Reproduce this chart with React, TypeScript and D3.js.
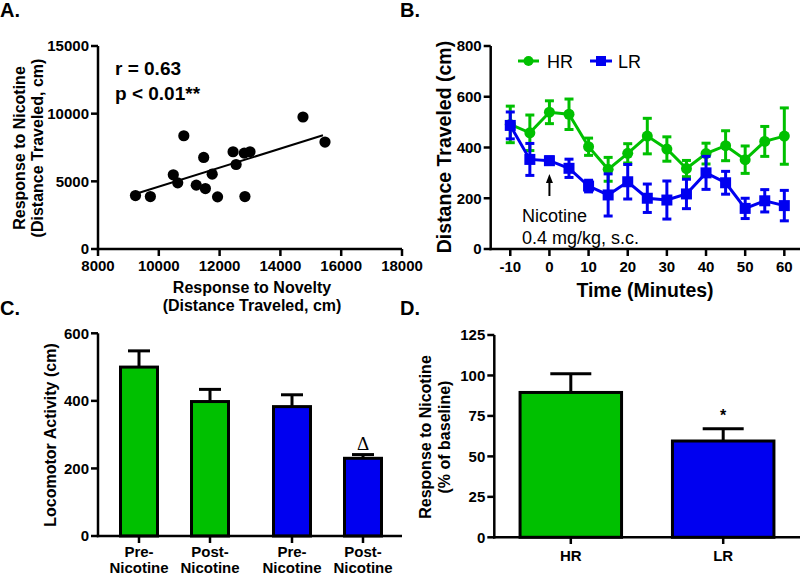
import React from "react";
import * as d3 from "d3";

// Panel A: scatter
const noveltyX = [9233, 9723, 10823, 10477, 10623, 11477, 11233, 11533, 11757, 11933, 12443, 12543, 12810, 13000, 12833, 14743, 15467];
const nicotineY = [3948, 3874, 8370, 5481, 4889, 6763, 4718, 4467, 5531, 3852, 7185, 6244, 7086, 7185, 3874, 9755, 7903];
const fitX = [9250, 15400];
const fitY = [4080, 8400];
const aXTicks = [8000, 10000, 12000, 14000, 16000, 18000];
const aYTicks = [0, 5000, 10000, 15000];

// Panel B: time course
const times = [-10, -5, 0, 5, 10, 15, 20, 25, 30, 35, 40, 45, 50, 55, 60];
const hrMean = [491, 458, 539, 531, 403, 314, 377, 445, 394, 317, 376, 407, 352, 424, 445];
const hrSem = [72, 70, 45, 60, 34, 47, 38, 70, 48, 32, 41, 59, 54, 59, 111];
const lrMean = [487, 353, 348, 318, 248, 213, 265, 200, 193, 217, 300, 261, 160, 190, 171];
const lrSem = [53, 63, 15, 36, 23, 83, 68, 56, 75, 58, 65, 45, 40, 44, 60];
const bXTicks = [-10, 0, 10, 20, 30, 40, 50, 60];
const bYTicks = [0, 200, 400, 600, 800];

// Panel C: grouped bars
const cGroups = ["HR", "LR"];
const cConds = ["Pre", "Post"];
const cLabels = [["Pre-", "Nicotine"], ["Post-", "Nicotine"]];
const cMeans = [[500, 398], [383, 230]];
const cSems = [[48, 36], [35, 11]];
const cYTicks = [0, 200, 400, 600];

// Panel D: bars
const dCats = ["HR", "LR"];
const dMeans = [89.5, 59.5];
const dSems = [11.5, 7.5];
const dYTicks = [0, 25, 50, 75, 100, 125];

const GREEN = "#00c000";
const BLUE = "#0000f0";
const FONT = "'Liberation Sans', Arial, Helvetica, sans-serif";

function YAxis({ x, scale, ticks, fmt = (d: number) => String(d) }: any) {
  const [r0, r1] = scale.range();
  return (
    <g>
      <line x1={x} x2={x} y1={r0 + 1.2} y2={r1} stroke="#000" strokeWidth={2.5} />
      {ticks.map((t: number) => (
        <g key={t}>
          <line x1={x - 7} x2={x} y1={scale(t)} y2={scale(t)} stroke="#000" strokeWidth={2.5} />
          <text x={x - 9} y={scale(t)} dy="0.36em" textAnchor="end" fontSize={15} fontWeight="bold">
            {fmt(t)}
          </text>
        </g>
      ))}
    </g>
  );
}

export default function App() {
  // Panel A scales
  const ax = d3.scaleLinear().domain([8000, 18000]).range([98, 402]);
  const ay = d3.scaleLinear().domain([0, 15000]).range([249, 46]);
  // Panel B scales
  const bx = d3.scaleLinear().domain([-15, 65]).range([490.7, 803.9]);
  const by = d3.scaleLinear().domain([0, 800]).range([249, 46]);
  const line = d3
    .line<number>()
    .x((_, i) => bx(times[i]))
    .y((d) => by(d));
  // Panel C scales
  const cx0 = d3.scaleBand().domain(cGroups).range([98, 404]).padding(0);
  const cx1 = d3.scaleBand().domain(cConds).range([0, cx0.bandwidth()]).paddingInner(0.479).paddingOuter(0.317);
  const cy = d3.scaleLinear().domain([0, 600]).range([536, 333.3]);
  // Panel D scales
  const dx = d3.scaleBand().domain(dCats).range([494, 800]).paddingInner(0.334).paddingOuter(0.171);
  const dy = d3.scaleLinear().domain([0, 125]).range([537.3, 335]);

  const errBar = (x: number, yTop: number, yBot: number, cap: number, color: string, key: string) => (
    <g key={key} stroke={color} strokeWidth={3}>
      <line x1={x} x2={x} y1={yTop} y2={yBot} />
      <line x1={x - cap / 2} x2={x + cap / 2} y1={yTop} y2={yTop} />
      <line x1={x - cap / 2} x2={x + cap / 2} y1={yBot} y2={yBot} />
    </g>
  );

  return (
    <svg width={800} height={576} style={{ position: "absolute", left: 0, top: 0, background: "#fff" }} fontFamily={FONT}>
      <rect width={800} height={576} fill="#fff" />
      {/* Panel labels */}
      <text x={0} y={17} fontSize={20} fontWeight="bold">A.</text>
      <text x={400} y={17} fontSize={20} fontWeight="bold">B.</text>
      <text x={0} y={315} fontSize={20} fontWeight="bold">C.</text>
      <text x={400} y={315} fontSize={20} fontWeight="bold">D.</text>

      {/* ---------- Panel A ---------- */}
      <g>
        <YAxis x={98} scale={ay} ticks={aYTicks} />
        <line x1={96.8} x2={402} y1={249} y2={249} stroke="#000" strokeWidth={2.5} />
        {aXTicks.map((t) => (
          <g key={t}>
            <line x1={ax(t)} x2={ax(t)} y1={249} y2={256} stroke="#000" strokeWidth={2.5} />
            <text x={ax(t)} y={270.5} textAnchor="middle" fontSize={15} fontWeight="bold">{t}</text>
          </g>
        ))}
        <line x1={ax(fitX[0])} x2={ax(fitX[1])} y1={ay(fitY[0])} y2={ay(fitY[1])} stroke="#000" strokeWidth={2} />
        {noveltyX.map((v, i) => (
          <circle key={i} cx={ax(v)} cy={ay(nicotineY[i])} r={5.6} fill="#000" />
        ))}
        <text x={115} y={75} fontSize={19} fontWeight="bold">r = 0.63</text>
        <text x={115} y={100} fontSize={19} fontWeight="bold">p &lt; 0.01**</text>
        <g transform="translate(25,148) rotate(-90)">
          <text textAnchor="middle" fontSize={16} fontWeight="bold">Response to Nicotine</text>
        </g>
        <g transform="translate(42.5,148) rotate(-90)">
          <text textAnchor="middle" fontSize={16} fontWeight="bold">(Distance Traveled, cm)</text>
        </g>
        <text x={252} y={293} textAnchor="middle" fontSize={16} fontWeight="bold">Response to Novelty</text>
        <text x={252} y={311} textAnchor="middle" fontSize={16} fontWeight="bold">(Distance Traveled, cm)</text>
      </g>

      {/* ---------- Panel B ---------- */}
      <g>
        <YAxis x={490.7} scale={by} ticks={bYTicks} />
        <line x1={489.5} x2={800} y1={249} y2={249} stroke="#000" strokeWidth={2.5} />
        {bXTicks.map((t) => (
          <g key={t}>
            <line x1={bx(t)} x2={bx(t)} y1={249} y2={256} stroke="#000" strokeWidth={2.5} />
            <text x={bx(t)} y={271.5} textAnchor="middle" fontSize={15} fontWeight="bold">{t}</text>
          </g>
        ))}
        {/* HR */}
        {times.map((t, i) => errBar(bx(t), by(hrMean[i] + hrSem[i]), by(hrMean[i] - hrSem[i]), 9, GREEN, "hr" + i))}
        <path d={line(hrMean) || ""} fill="none" stroke={GREEN} strokeWidth={3} />
        {times.map((t, i) => (
          <circle key={"hc" + i} cx={bx(t)} cy={by(hrMean[i])} r={5.5} fill={GREEN} />
        ))}
        {/* LR */}
        {times.map((t, i) => errBar(bx(t), by(lrMean[i] + lrSem[i]), by(lrMean[i] - lrSem[i]), 9, BLUE, "lr" + i))}
        <path d={line(lrMean) || ""} fill="none" stroke={BLUE} strokeWidth={3} />
        {times.map((t, i) => (
          <rect key={"lc" + i} x={bx(t) - 5.5} y={by(lrMean[i]) - 5.5} width={11} height={11} fill={BLUE} />
        ))}
        {/* legend */}
        <line x1={518} x2={539} y1={61} y2={61} stroke={GREEN} strokeWidth={3} />
        <circle cx={528.5} cy={61} r={5} fill={GREEN} />
        <text x={547} y={67.5} fontSize={18}>HR</text>
        <line x1={590} x2={612} y1={61} y2={61} stroke={BLUE} strokeWidth={3} />
        <rect x={596} y={56} width={10} height={10} fill={BLUE} />
        <text x={618} y={67.5} fontSize={18}>LR</text>
        {/* arrow + annotation */}
        <line x1={bx(0)} x2={bx(0)} y1={196} y2={180} stroke="#000" strokeWidth={2} />
        <path d={`M${bx(0) - 3.5},${183} L${bx(0)},${174} L${bx(0) + 3.5},${183} Z`} fill="#000" />
        <text x={522} y={221.5} fontSize={18}>Nicotine</text>
        <text x={522} y={243.5} fontSize={18}>0.4 mg/kg, s.c.</text>
        <g transform="translate(451,147) rotate(-90)">
          <text textAnchor="middle" fontSize={19.5} fontWeight="bold">Distance Traveled (cm)</text>
        </g>
        <text x={645} y={297} textAnchor="middle" fontSize={19.5} fontWeight="bold">Time (Minutes)</text>
      </g>

      {/* ---------- Panel C ---------- */}
      <g>
        {cGroups.map((g, gi) =>
          cConds.map((c, ci) => {
            const x = (cx0(g) || 0) + (cx1(c) || 0);
            const w = cx1.bandwidth();
            const cxm = x + w / 2;
            const col = gi === 0 ? GREEN : BLUE;
            const m = cMeans[gi][ci];
            const s = cSems[gi][ci];
            return (
              <g key={g + c}>
                <line x1={cxm} x2={cxm} y1={cy(m)} y2={cy(m + s)} stroke="#000" strokeWidth={3} />
                <line x1={cxm - 11} x2={cxm + 11} y1={cy(m + s)} y2={cy(m + s)} stroke="#000" strokeWidth={3} />
                <rect x={x} y={cy(m)} width={w} height={cy(0) - cy(m)} fill={col} stroke="#000" strokeWidth={3} />
                <line x1={cxm} x2={cxm} y1={536} y2={543} stroke="#000" strokeWidth={2.5} />
                <text x={cxm} y={557} textAnchor="middle" fontSize={15} fontWeight="bold">{cLabels[ci][0]}</text>
                <text x={cxm} y={573} textAnchor="middle" fontSize={15} fontWeight="bold">{cLabels[ci][1]}</text>
              </g>
            );
          })
        )}
        <YAxis x={98} scale={cy} ticks={cYTicks} />
        <line x1={96.8} x2={402} y1={536} y2={536} stroke="#000" strokeWidth={2.5} />
        <text
          x={(cx0("LR") || 0) + (cx1("Post") || 0) + cx1.bandwidth() / 2}
          y={cy(cMeans[1][1] + cSems[1][1]) - 5}
          textAnchor="middle"
          fontSize={19}
          fontFamily="'Liberation Serif', 'Times New Roman', serif"
        >
          Δ
        </text>
        <g transform="translate(56,435) rotate(-90)">
          <text textAnchor="middle" fontSize={16} fontWeight="bold">Locomotor Activity (cm)</text>
        </g>
      </g>

      {/* ---------- Panel D ---------- */}
      <g>
        {dCats.map((c, i) => {
          const x = dx(c) || 0;
          const w = dx.bandwidth();
          const cxm = x + w / 2;
          const m = dMeans[i];
          const s = dSems[i];
          return (
            <g key={c}>
              <line x1={cxm} x2={cxm} y1={dy(m)} y2={dy(m + s)} stroke="#000" strokeWidth={3} />
              <line x1={cxm - 20.5} x2={cxm + 20.5} y1={dy(m + s)} y2={dy(m + s)} stroke="#000" strokeWidth={3} />
              <rect x={x} y={dy(m)} width={w} height={dy(0) - dy(m)} fill={i === 0 ? GREEN : BLUE} stroke="#000" strokeWidth={3} />
              <line x1={cxm} x2={cxm} y1={537.3} y2={544} stroke="#000" strokeWidth={2.5} />
              <text x={cxm} y={561} textAnchor="middle" fontSize={15} fontWeight="bold">{c}</text>
            </g>
          );
        })}
        <YAxis x={494.3} scale={dy} ticks={dYTicks} />
        <line x1={493} x2={800} y1={537.3} y2={537.3} stroke="#000" strokeWidth={2.5} />
        <text x={(dx("LR") || 0) + dx.bandwidth() / 2} y={421} textAnchor="middle" fontSize={16} fontWeight="bold">*</text>
        <g transform="translate(431,437) rotate(-90)">
          <text textAnchor="middle" fontSize={16} fontWeight="bold">Response to Nicotine</text>
        </g>
        <g transform="translate(449.5,437) rotate(-90)">
          <text textAnchor="middle" fontSize={16} fontWeight="bold">(% of baseline)</text>
        </g>
      </g>
    </svg>
  );
}
